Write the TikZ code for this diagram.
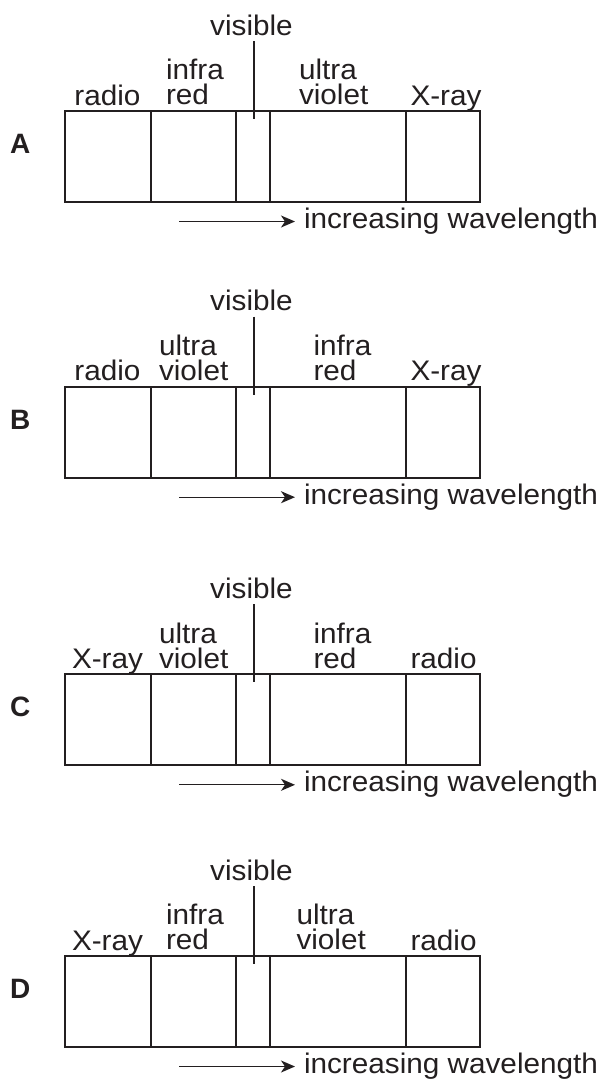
\documentclass[tikz,border=0pt]{standalone}
\usepackage{fontspec}
\setmainfont{Liberation Sans}
\usetikzlibrary{arrows.meta}
\definecolor{ink}{HTML}{231F20}
\begin{document}
\begin{tikzpicture}[x=1pt,y=-1pt,
  txt/.style={font=\fontsize{28.3}{25}\selectfont, inner sep=0pt, outer sep=0pt, xscale=1.05, anchor=base west, text=ink},
  twoline/.style={txt, align=left, anchor=south west},
  lbl/.style={font=\bfseries\fontsize{28}{28}\selectfont, inner sep=0pt, anchor=base west, text=ink},
  boxst/.style={draw=ink, line width=2.1pt},
  divst/.style={draw=ink, line width=2.3pt},
  visline/.style={draw=ink, line width=1.1pt},
  arr/.style={draw=ink, line width=1.3pt, -{Stealth[length=14pt,width=12pt,inset=4pt]}}]
\useasboundingbox (0,0) rectangle (597,1079);
\foreach \pn/\pt/\sa/\sba/\sbb/\sbx/\sda/\sdb/\sdx/\se in {
  A/111/radio/infra/red/166/ultra/violet/299/X-ray,
  B/386.7/radio/ultra/violet/159/infra/red/313.5/X-ray,
  C/674.3/X-ray/ultra/violet/159/infra/red/313.5/radio,
  D/956/X-ray/infra/red/166/ultra/violet/296.5/radio}{
\begin{scope}[shift={(0,\pt)}]
  \node[lbl] (\pn lab) at (10,42.3) {\pn};
  \draw[boxst] (65,0) rectangle (480.3,91);
  \draw[divst] (150.7,0) -- (150.7,91) (236.3,0) -- (236.3,91)
               (270,0) -- (270,91) (405.7,0) -- (405.7,91);
  \node[txt, anchor=base] (\pn c1) at (107.5,-6) {\sa};
  \node[twoline] (\pn c2) at (\sbx,-6) {\sba\\\sbb};
  \node[twoline] (\pn c4) at (\sdx,-6) {\sda\\\sdb};
  \node[txt] (\pn c5) at (410.5,-6) {\se};
  \node[txt, anchor=base] (\pn vis) at (251.5,-76) {visible};
  \coordinate (\pn visend) at (254,8);
  \draw[visline, shorten <=6pt] (\pn vis.base -| \pn visend) -- (\pn visend);
  \coordinate (\pn arrs) at (179,110.5);
  \node[txt] (\pn inc) at (304,117.3) {increasing wavelength};
  \draw[arr, shorten >=9pt] (\pn arrs) -- (\pn inc.west |- \pn arrs);
\end{scope}}
\end{tikzpicture}
\end{document}
